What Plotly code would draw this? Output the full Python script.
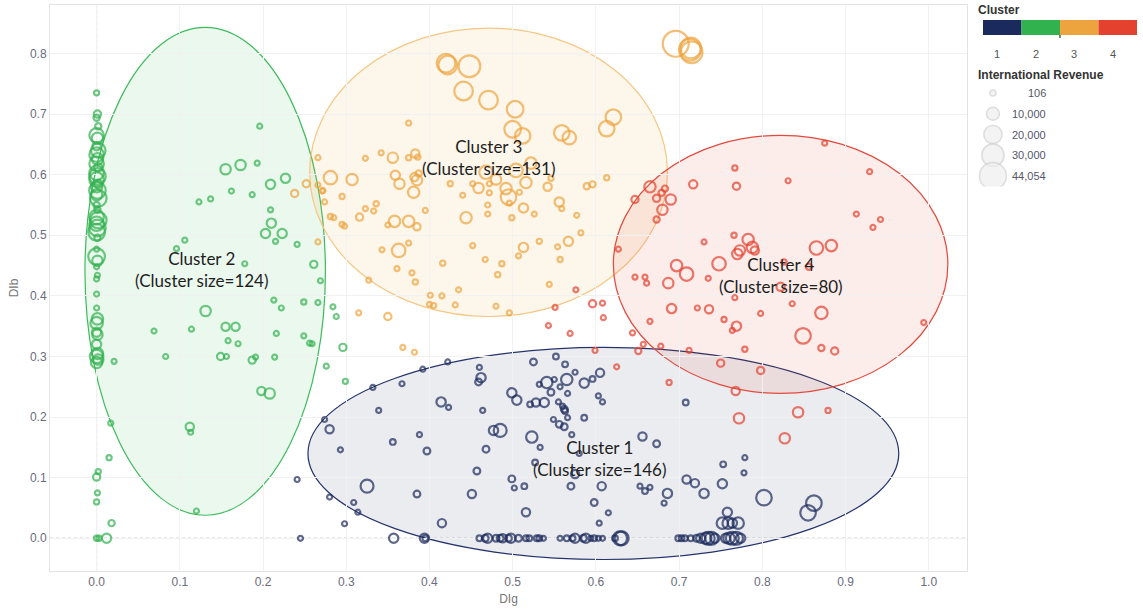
import plotly.graph_objects as go

# ---------------- data ----------------
cluster_names = ["1", "2", "3", "4"]
cluster_colors = ["#1b2a5c", "#32b24f", "#eea43e", "#e5412f"]
cluster_labels = ["Cluster 1<br>(Cluster size=146)", "Cluster 2<br>(Cluster size=124)",
                  "Cluster 3<br>(Cluster size=131)", "Cluster 4<br>(Cluster size=80)"]
label_x = [0.605, 0.127, 0.472, 0.822]
label_y = [0.132, 0.444, 0.629, 0.434]

# cluster 1 (navy): points on the DIb = 0 line
c1a_x = [0.245, 0.357, 0.394, 0.395, 0.460, 0.467, 0.470, 0.480, 0.485, 0.488,
         0.495, 0.498, 0.507, 0.516, 0.520, 0.529, 0.532, 0.537, 0.557, 0.565,
         0.572, 0.575, 0.585, 0.588, 0.594, 0.598, 0.603, 0.608, 0.623, 0.629,
         0.631, 0.699, 0.703, 0.707, 0.714, 0.721, 0.726, 0.732, 0.735, 0.739,
         0.743, 0.756, 0.760, 0.764, 0.769, 0.774]
c1a_y = [0.0, 0.0, 0.0, 0.0, 0.0, 0.0, 0.0, 0.0, 0.0, 0.0,
         0.0, 0.0, 0.0, 0.0, 0.0, 0.0, 0.0, 0.0, 0.0, 0.0,
         0.0, 0.0, 0.0, 0.0, 0.0, 0.0, 0.0, 0.0, 0.0, 0.0,
         0.0, 0.0, 0.0, 0.0, 0.0, 0.0, 0.0, 0.0, 0.0, 0.0,
         0.0, 0.0, 0.0, 0.0, 0.0, 0.0]
c1a_rev = [585, 5265, 5265, 1970, 1970, 2750, 5265, 2750, 2750, 4160,
           2750, 5265, 2750, 1970, 1970, 1970, 1970, 1040, 1040, 1970,
           1970, 5265, 2750, 5265, 1040, 1970, 1040, 1040, 1970, 11850,
           11850, 1970, 1970, 1970, 1970, 2750, 5265, 7865, 10150, 10150,
           5265, 5265, 7865, 10150, 10150, 5265]
# cluster 1 (navy): other points
c1b_x = [0.552, 0.525, 0.563, 0.460, 0.422, 0.392, 0.575, 0.605, 0.596, 0.586,
         0.565, 0.541, 0.550, 0.532, 0.557, 0.546, 0.566, 0.462, 0.459, 0.367,
         0.332, 0.499, 0.505, 0.414, 0.423, 0.521, 0.528, 0.538, 0.555, 0.560,
         0.562, 0.563, 0.603, 0.608, 0.708, 0.464, 0.339, 0.274, 0.280, 0.549,
         0.566, 0.586, 0.556, 0.562, 0.477, 0.485, 0.523, 0.571, 0.388, 0.356,
         0.293, 0.397, 0.468, 0.533, 0.656, 0.673, 0.580, 0.527, 0.457, 0.575,
         0.753, 0.779, 0.778, 0.499, 0.502, 0.514, 0.570, 0.607, 0.653, 0.659,
         0.665, 0.709, 0.719, 0.752, 0.730, 0.686, 0.682, 0.598, 0.615, 0.604,
         0.516, 0.451, 0.385, 0.415, 0.325, 0.280, 0.309, 0.314, 0.298, 0.241,
         0.758, 0.752, 0.759, 0.764, 0.771, 0.802, 0.862, 0.855]
c1b_y = [0.300, 0.291, 0.287, 0.282, 0.291, 0.279, 0.274, 0.273, 0.263, 0.256,
         0.262, 0.257, 0.262, 0.254, 0.250, 0.241, 0.239, 0.265, 0.258, 0.255,
         0.249, 0.240, 0.228, 0.225, 0.216, 0.221, 0.224, 0.224, 0.225, 0.218,
         0.213, 0.210, 0.235, 0.225, 0.224, 0.211, 0.211, 0.196, 0.180, 0.196,
         0.199, 0.199, 0.188, 0.184, 0.178, 0.178, 0.167, 0.171, 0.171, 0.159,
         0.146, 0.144, 0.147, 0.150, 0.168, 0.156, 0.140, 0.125, 0.111, 0.106,
         0.122, 0.133, 0.108, 0.098, 0.083, 0.086, 0.086, 0.086, 0.086, 0.078,
         0.084, 0.097, 0.091, 0.090, 0.074, 0.074, 0.058, 0.059, 0.042, 0.025,
         0.043, 0.073, 0.073, 0.025, 0.086, 0.068, 0.059, 0.043, 0.024, 0.097,
         0.043, 0.025, 0.025, 0.025, 0.025, 0.067, 0.058, 0.042]
c1b_rev = [1970, 2750, 1970, 1040, 1040, 585, 585, 4160, 1970, 5265,
           7865, 7865, 1040, 585, 1040, 2750, 1040, 5265, 2750, 585,
           585, 5265, 5265, 5265, 1040, 1970, 4160, 5265, 1040, 1040,
           2750, 1970, 1040, 585, 1970, 1040, 585, 1040, 4160, 585,
           585, 1970, 2750, 2750, 5265, 10150, 7865, 585, 1040, 1970,
           585, 2750, 2750, 585, 4160, 2750, 1040, 1970, 2750, 4160,
           1970, 1040, 1040, 2750, 585, 1970, 2750, 4160, 585, 1970,
           585, 4160, 4160, 5265, 5265, 5265, 585, 2750, 1040, 1040,
           4160, 4160, 2750, 4160, 10150, 1040, 1040, 585, 585, 585,
           5265, 7865, 7865, 5265, 7865, 14625, 14625, 14625]

# cluster 2 (green): points on the DIg = 0 column
c2a_x = [0.000, 0.001, 0.000, 0.002, 0.000, 0.001, 0.000, 0.002, 0.000, 0.001,
         0.000, 0.002, 0.000, 0.001, 0.000, 0.002, 0.000, 0.001, 0.000, 0.002,
         0.000, 0.001, 0.000, 0.002, 0.000, 0.001, 0.000, 0.001, 0.000, 0.000,
         0.001, 0.000, 0.001, 0.000, 0.000, 0.000, 0.001, 0.000, 0.000, 0.001,
         0.000, 0.001, 0.000, 0.002, 0.000, 0.021, 0.017, 0.015, 0.002, 0.000,
         0.001, 0.000, 0.018, 0.000, 0.003, 0.012]
c2a_y = [0.735, 0.700, 0.694, 0.680, 0.665, 0.660, 0.647, 0.640, 0.633, 0.626,
         0.618, 0.612, 0.603, 0.597, 0.592, 0.585, 0.580, 0.574, 0.567, 0.561,
         0.550, 0.542, 0.530, 0.525, 0.519, 0.512, 0.505, 0.496, 0.477, 0.465,
         0.458, 0.448, 0.434, 0.428, 0.403, 0.380, 0.362, 0.355, 0.340, 0.336,
         0.320, 0.305, 0.300, 0.295, 0.290, 0.292, 0.190, 0.133, 0.110, 0.101,
         0.075, 0.060, 0.025, 0.000, 0.000, 0.000]
c2a_rev = [1625, 3185, 2340, 2340, 12740, 7865, 4160, 12740, 12740, 7865,
           12740, 4160, 12740, 16640, 12740, 4160, 7865, 16640, 7865, 16640,
           2340, 2340, 12740, 16640, 12740, 16640, 16640, 2340, 1040, 16640,
           6500, 1040, 585, 585, 260, 260, 7865, 9360, 5265, 6500,
           5265, 7865, 10985, 6500, 7865, 1040, 1040, 1625, 1625, 3185,
           1040, 1625, 2340, 1625, 1625, 5265]
# cluster 2 (green): scattered points
c2b_x = [0.196, 0.155, 0.173, 0.193, 0.162, 0.123, 0.137, 0.187, 0.209, 0.227,
         0.209, 0.210, 0.203, 0.223, 0.215, 0.241, 0.106, 0.096, 0.178, 0.261,
         0.269, 0.131, 0.213, 0.222, 0.249, 0.266, 0.155, 0.167, 0.069, 0.114,
         0.158, 0.170, 0.216, 0.249, 0.259, 0.083, 0.149, 0.156, 0.187, 0.191,
         0.214, 0.276, 0.198, 0.208, 0.112, 0.113, 0.288, 0.284, 0.256, 0.296,
         0.299, 0.120]
c2b_y = [0.680, 0.609, 0.616, 0.619, 0.573, 0.555, 0.560, 0.567, 0.584, 0.594,
         0.542, 0.520, 0.503, 0.503, 0.490, 0.485, 0.492, 0.478, 0.453, 0.452,
         0.425, 0.375, 0.393, 0.380, 0.390, 0.389, 0.349, 0.349, 0.342, 0.345,
         0.326, 0.321, 0.338, 0.334, 0.321, 0.300, 0.300, 0.300, 0.294, 0.299,
         0.299, 0.284, 0.243, 0.239, 0.184, 0.175, 0.366, 0.382, 0.322, 0.315,
         0.259, 0.045]
c2b_rev = [1040, 6500, 6500, 260, 585, 260, 260, 1040, 5265, 5265,
           585, 5265, 5265, 5265, 585, 260, 260, 260, 260, 3185,
           1040, 6500, 585, 1040, 1625, 1040, 4160, 4160, 260, 260,
           260, 260, 260, 1040, 1040, 260, 3185, 260, 3185, 260,
           1040, 585, 4160, 6500, 4160, 260, 585, 260, 585, 3185,
           1625, 260]

# cluster 3 (orange): large-revenue points
c3a_x = [0.420, 0.422, 0.448, 0.441, 0.471, 0.503, 0.500, 0.512, 0.559, 0.568,
         0.621, 0.613, 0.696, 0.713, 0.715, 0.714]
c3a_y = [0.784, 0.781, 0.779, 0.738, 0.723, 0.708, 0.675, 0.664, 0.669, 0.661,
         0.695, 0.676, 0.816, 0.806, 0.802, 0.809]
c3a_rev = [21060, 21060, 28665, 21060, 21060, 16640, 16640, 14625, 14625, 10985,
           14625, 14625, 40625, 28665, 28665, 26000]
# cluster 3 (orange): other points
c3b_x = [0.375, 0.266, 0.323, 0.342, 0.356, 0.375, 0.383, 0.386, 0.281, 0.307,
         0.252, 0.266, 0.271, 0.274, 0.295, 0.359, 0.364, 0.382, 0.385, 0.387,
         0.381, 0.425, 0.440, 0.452, 0.459, 0.472, 0.480, 0.472, 0.468, 0.492,
         0.495, 0.508, 0.504, 0.516, 0.522, 0.542, 0.546, 0.556, 0.559, 0.589,
         0.596, 0.613, 0.496, 0.470, 0.470, 0.444, 0.499, 0.513, 0.526, 0.577,
         0.336, 0.333, 0.323, 0.395, 0.316, 0.281, 0.285, 0.295, 0.298, 0.358,
         0.375, 0.385, 0.350, 0.582, 0.567, 0.532, 0.513, 0.554, 0.507, 0.557,
         0.452, 0.363, 0.375, 0.343, 0.467, 0.487, 0.482, 0.416, 0.361, 0.379,
         0.383, 0.327, 0.544, 0.435, 0.401, 0.415, 0.400, 0.405, 0.431, 0.480,
         0.496, 0.315, 0.350, 0.266, 0.238, 0.272, 0.368, 0.382]
c3b_y = [0.685, 0.628, 0.627, 0.636, 0.628, 0.628, 0.635, 0.629, 0.595, 0.592,
         0.585, 0.583, 0.573, 0.555, 0.564, 0.599, 0.585, 0.596, 0.591, 0.602,
         0.571, 0.585, 0.566, 0.585, 0.578, 0.585, 0.592, 0.570, 0.604, 0.577,
         0.563, 0.571, 0.607, 0.587, 0.619, 0.580, 0.594, 0.555, 0.544, 0.581,
         0.584, 0.595, 0.553, 0.550, 0.535, 0.529, 0.529, 0.545, 0.535, 0.533,
         0.552, 0.540, 0.544, 0.541, 0.530, 0.531, 0.529, 0.518, 0.515, 0.523,
         0.523, 0.514, 0.517, 0.504, 0.490, 0.490, 0.480, 0.481, 0.466, 0.460,
         0.483, 0.475, 0.487, 0.476, 0.460, 0.453, 0.435, 0.454, 0.445, 0.438,
         0.423, 0.426, 0.419, 0.410, 0.401, 0.400, 0.386, 0.384, 0.385, 0.383,
         0.372, 0.372, 0.366, 0.489, 0.569, 0.574, 0.315, 0.307]
c3b_rev = [585, 585, 585, 65, 6500, 1625, 4160, 1625, 10985, 7865,
           3185, 585, 1040, 1040, 1625, 5265, 6500, 4160, 6500, 2340,
           7865, 1625, 1040, 585, 6500, 585, 6500, 1040, 10985, 7865,
           14625, 1040, 10985, 7865, 7865, 4160, 1625, 5265, 1040, 2340,
           2340, 1625, 1040, 1040, 1040, 7865, 1625, 5265, 1040, 260,
           1625, 585, 260, 1040, 3185, 1625, 260, 1625, 585, 7865,
           7865, 3185, 260, 585, 5265, 1625, 5265, 585, 1040, 1625,
           585, 10985, 585, 585, 1040, 1625, 1625, 1625, 585, 260,
           1625, 1040, 260, 260, 260, 1040, 585, 1625, 1040, 1040,
           585, 1040, 3185, 585, 3185, 585, 260, 585]

# cluster 4 (red)
c4_x = [0.875, 0.767, 0.929, 0.831, 0.717, 0.769, 0.665, 0.683, 0.679, 0.673,
        0.690, 0.647, 0.680, 0.673, 0.913, 0.942, 0.933, 0.766, 0.783, 0.788,
        0.773, 0.770, 0.791, 0.730, 0.865, 0.883, 0.748, 0.697, 0.709, 0.826,
        0.856, 0.647, 0.659, 0.661, 0.687, 0.735, 0.822, 0.767, 0.836, 0.691,
        0.722, 0.736, 0.798, 0.871, 0.994, 0.608, 0.609, 0.665, 0.754, 0.769,
        0.764, 0.849, 0.644, 0.657, 0.678, 0.712, 0.779, 0.871, 0.887, 0.651,
        0.750, 0.798, 0.625, 0.688, 0.768, 0.843, 0.879, 0.772, 0.827, 0.599,
        0.551, 0.576, 0.596, 0.543, 0.569, 0.627]
c4_y = [0.652, 0.611, 0.605, 0.590, 0.584, 0.581, 0.580, 0.577, 0.570, 0.561,
        0.559, 0.559, 0.542, 0.526, 0.535, 0.526, 0.513, 0.500, 0.493, 0.480,
        0.475, 0.469, 0.475, 0.489, 0.479, 0.483, 0.453, 0.450, 0.436, 0.456,
        0.448, 0.431, 0.431, 0.421, 0.421, 0.429, 0.415, 0.397, 0.387, 0.379,
        0.380, 0.378, 0.371, 0.372, 0.356, 0.388, 0.364, 0.358, 0.361, 0.350,
        0.343, 0.334, 0.339, 0.320, 0.317, 0.310, 0.312, 0.314, 0.309, 0.309,
        0.289, 0.277, 0.283, 0.257, 0.243, 0.208, 0.211, 0.198, 0.165, 0.310,
        0.381, 0.410, 0.387, 0.351, 0.338, 0.477]
c4_rev = [585, 1625, 585, 260, 4160, 3185, 7865, 2340, 2340, 3185,
          6500, 3185, 6500, 2340, 585, 585, 260, 1625, 7865, 7865,
          6500, 6500, 4160, 1040, 10985, 7865, 10985, 7865, 10985, 1625,
          2340, 585, 585, 260, 6500, 1040, 4160, 1040, 1040, 5265,
          260, 4160, 1040, 9360, 1040, 585, 585, 1040, 1625, 5265,
          1040, 14625, 260, 260, 585, 585, 1625, 2340, 3185, 2340,
          3185, 3185, 260, 1625, 4160, 6500, 1625, 6500, 6500, 585,
          260, 585, 3185, 585, 585, 65]

# cluster ellipses (x0, x1, y0, y1) in data units
ell_x0 = [0.254, -0.014, 0.256, 0.621]
ell_x1 = [0.964, 0.275, 0.686, 1.023]
ell_y0 = [-0.035, 0.038, 0.366, 0.239]
ell_y1 = [0.315, 0.843, 0.842, 0.665]
ell_fill = ["rgba(28,42,90,0.092)", "rgba(61,187,92,0.10)",
            "rgba(240,170,60,0.11)", "rgba(228,64,52,0.10)"]
ell_line = ["#25336a", "#3dbb5c", "#f6c784", "#e24a3d"]

# size legend
size_legend_values = [106, 10000, 20000, 30000, 44054]
size_legend_labels = ["106", "10,000", "20,000", "30,000", "44,054"]

x_ticks = [0.0, 0.1, 0.2, 0.3, 0.4, 0.5, 0.6, 0.7, 0.8, 0.9, 1.0]
y_ticks = [0.0, 0.1, 0.2, 0.3, 0.4, 0.5, 0.6, 0.7, 0.8]

# ---------------- figure ----------------
W, H = 1143, 615
ML, MR, MT, MB = 50, 5, 5, 44
PW, PH = W - ML - MR, H - MT - MB


def px_to_paper_x(px):
    return (px - ML) / PW


def px_to_paper_y(py):
    return (H - MB - py) / PH


MAX_D = 27
sref = 2.0 * max(size_legend_values) / MAX_D ** 2

fig = go.Figure()

series = [
    (c1a_x + c1b_x, c1a_y + c1b_y, c1a_rev + c1b_rev),
    (c2a_x + c2b_x, c2a_y + c2b_y, c2a_rev + c2b_rev),
    (c3a_x + c3b_x, c3a_y + c3b_y, c3a_rev + c3b_rev),
    (c4_x, c4_y, c4_rev),
]
for i, (xs, ys, rv) in enumerate(series):
    fig.add_trace(go.Scatter(
        x=xs, y=ys, mode="markers", name="Cluster " + cluster_names[i],
        customdata=rv,
        hovertemplate="DIg=%{x}<br>DIb=%{y}<br>International Revenue=%{customdata}<extra></extra>",
        marker=dict(size=rv, sizemode="area", sizeref=sref, sizemin=2.5,
                    color="rgba(255,255,255,0)",
                    line=dict(color=cluster_colors[i], width=2.2)),
        showlegend=False, cliponaxis=False,
    ))

# ellipses
for i in range(4):
    fig.add_shape(type="circle", xref="x", yref="y",
                  x0=ell_x0[i], x1=ell_x1[i], y0=ell_y0[i], y1=ell_y1[i],
                  fillcolor=ell_fill[i], line=dict(color=ell_line[i], width=1.2),
                  layer="below")

# dotted zero lines
fig.add_shape(type="line", xref="x", yref="y domain", x0=0, x1=0, y0=0, y1=1,
              line=dict(color="#9a9a9a", width=1, dash="dot"), layer="below")
fig.add_shape(type="line", xref="x domain", yref="y", x0=0, x1=1, y0=0, y1=0,
              line=dict(color="#9a9a9a", width=1, dash="dot"), layer="below")

# cluster labels
for i in range(4):
    fig.add_annotation(x=label_x[i], y=label_y[i], xref="x", yref="y",
                       text=cluster_labels[i], showarrow=False,
                       font=dict(family="Lato, Carlito, sans-serif", size=17, color="#1e1e1e"),
                       align="center")

# size legend as its own little axis
fig.add_trace(go.Scatter(
    x=[0.11] * len(size_legend_values), y=list(range(len(size_legend_values))),
    mode="markers", xaxis="x2", yaxis="y2", hoverinfo="skip", showlegend=False,
    marker=dict(size=size_legend_values, sizemode="area", sizeref=sref, sizemin=3,
                color="#eeeeee", line=dict(color="#cfcfcf", width=1.5)),
))
for i, lab in enumerate(size_legend_labels):
    fig.add_annotation(x=0.445, y=i, xref="x2", yref="y2", text=lab, showarrow=False,
                       xanchor="right", font=dict(family="Liberation Sans, Arial, sans-serif",
                                                  size=11, color="#55556a"))

# legend titles
fig.add_annotation(x=px_to_paper_x(976), y=px_to_paper_y(10), xref="paper", yref="paper",
                   text="<b>Cluster</b>", showarrow=False, xanchor="left", yanchor="middle",
                   font=dict(family="Liberation Sans, Arial, sans-serif", size=12, color="#333333"))
fig.add_annotation(x=px_to_paper_x(976), y=px_to_paper_y(75), xref="paper", yref="paper",
                   text="<b>International Revenue</b>", showarrow=False, xanchor="left",
                   yanchor="middle",
                   font=dict(family="Liberation Sans, Arial, sans-serif", size=12, color="#333333"))

# colour legend blocks
bx0, bx1, by0, by1 = 983, 1137, 20, 35
seg = (bx1 - bx0) / 4
for i in range(4):
    fig.add_shape(type="rect", xref="paper", yref="paper",
                  x0=px_to_paper_x(bx0 + i * seg), x1=px_to_paper_x(bx0 + (i + 1) * seg),
                  y0=px_to_paper_y(by1), y1=px_to_paper_y(by0),
                  fillcolor=cluster_colors[i], line=dict(width=0))
    fig.add_annotation(x=px_to_paper_x(bx0 + (i + 0.5) * seg), y=px_to_paper_y(46),
                       xref="paper", yref="paper", text=cluster_names[i], showarrow=False,
                       font=dict(family="Liberation Sans, Arial, sans-serif", size=11, color="#555555"))
fig.add_shape(type="line", xref="paper", yref="paper",
              x0=px_to_paper_x(bx0 + 2 * seg), x1=px_to_paper_x(bx0 + 2 * seg),
              y0=px_to_paper_y(by1), y1=px_to_paper_y(by1 + 3), line=dict(color="#000", width=1))

main_dom_x1 = px_to_paper_x(967)
tick_font = dict(family="Liberation Sans Narrow, Arial Narrow, Liberation Sans, sans-serif",
                 size=12, color="#6b6b7b")
title_font = dict(family="Liberation Sans Narrow, Liberation Sans, sans-serif", size=12, color="#777777")

fig.update_layout(
    width=W, height=H,
    margin=dict(l=ML, r=MR, t=MT, b=MB),
    paper_bgcolor="white", plot_bgcolor="white",
    xaxis=dict(domain=[0, main_dom_x1], range=[-0.056, 1.046], tickvals=x_ticks,
               tickformat=".1f", showgrid=True, gridcolor="#f1f1f1", zeroline=False,
               showline=True, linecolor="#e3e3e3", mirror=True, ticks="",
               tickfont=tick_font, title=dict(text="DIg", font=title_font, standoff=6)),
    yaxis=dict(domain=[0, 1], range=[-0.054, 0.88], tickvals=y_ticks, tickformat=".1f",
               showgrid=True, gridcolor="#f1f1f1", zeroline=False,
               showline=True, linecolor="#e3e3e3", mirror=True, ticks="",
               tickfont=tick_font, title=dict(text="DIb", font=title_font, standoff=8)),
    xaxis2=dict(domain=[px_to_paper_x(975), 1.0], range=[0, 1], visible=False, fixedrange=True,
                anchor="y2"),
    yaxis2=dict(domain=[px_to_paper_y(186.4), px_to_paper_y(82.6)], range=[4.5, -0.5],
                visible=False, fixedrange=True, anchor="x2"),
    showlegend=False,
)

fig.write_html("out.html", config={"displayModeBar": False},
               post_script="document.body.style.margin='0';")
